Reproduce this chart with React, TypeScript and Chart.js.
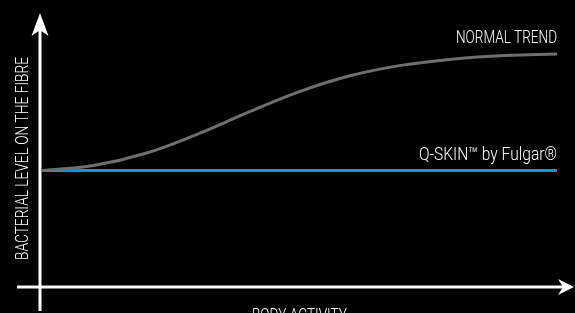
import React, { useEffect, useRef } from "react";
import { Chart, registerables } from "chart.js";

Chart.register(...registerables);

const trendX = [0, 10, 20, 30, 40, 50, 60, 70, 80, 90, 100];
const trendY = [43.6, 45.5, 50.0, 57.1, 65.4, 73.2, 79.2, 83.1, 85.4, 86.7, 87.3];
const qskinX = [0, 100];
const qskinY = [43.6, 43.6];
const trendLabel = "NORMAL TREND";
const qskinLabel = "Q-SKIN™ by Fulgar®";
const yTitle = "BACTERIAL LEVEL ON THE FIBRE";
const xTitle = "BODY ACTIVITY";

const FONT = 'Roboto, "DejaVu Sans Condensed", sans-serif';

function fitText(ctx: CanvasRenderingContext2D, text: string, width: number) {
  const w = ctx.measureText(text).width;
  ctx.scale(width / w, 1);
}

const decorPlugin = {
  id: "decor",
  beforeDatasetsDraw(chart: any) {
    const ctx: CanvasRenderingContext2D = chart.ctx;
    const area = chart.chartArea;
    const ax = area.left - 2;
    const ay = area.bottom;
    ctx.save();
    ctx.strokeStyle = "#ffffff";
    ctx.fillStyle = "#ffffff";
    ctx.lineWidth = 3;
    ctx.beginPath();
    ctx.moveTo(ax, 20);
    ctx.lineTo(ax, 311);
    ctx.stroke();
    ctx.beginPath();
    ctx.moveTo(17, ay);
    ctx.lineTo(568, ay);
    ctx.stroke();
    ctx.beginPath();
    ctx.moveTo(ax, 13);
    ctx.lineTo(ax + 8.5, 36);
    ctx.lineTo(ax, 30);
    ctx.lineTo(ax - 8.5, 36);
    ctx.closePath();
    ctx.fill();
    ctx.beginPath();
    ctx.moveTo(574, ay);
    ctx.lineTo(558, ay - 8);
    ctx.lineTo(563, ay);
    ctx.lineTo(558, ay + 8);
    ctx.closePath();
    ctx.fill();
    ctx.restore();
  },
  afterDraw(chart: any) {
    const ctx: CanvasRenderingContext2D = chart.ctx;
    const xs = chart.scales.x;
    const ys = chart.scales.y;
    const right = xs.getPixelForValue(100);
    ctx.save();
    ctx.fillStyle = "#ffffff";
    ctx.font = `300 18px ${FONT}`;
    ctx.textBaseline = "alphabetic";
    ctx.textAlign = "left";

    ctx.save();
    ctx.translate(456, ys.getPixelForValue(trendY[trendY.length - 1]) - 11);
    fitText(ctx, trendLabel, right - 456);
    ctx.fillText(trendLabel, 0, 0);
    ctx.restore();

    ctx.save();
    ctx.translate(419, ys.getPixelForValue(qskinY[qskinY.length - 1]) - 10.5);
    fitText(ctx, qskinLabel, right - 419);
    ctx.fillText(qskinLabel, 0, 0);
    ctx.restore();

    ctx.save();
    ctx.translate(252, 321);
    fitText(ctx, xTitle, 95);
    ctx.fillText(xTitle, 0, 0);
    ctx.restore();

    ctx.save();
    ctx.translate(28, 260);
    ctx.rotate(-Math.PI / 2);
    ctx.font = `300 19px ${FONT}`;
    fitText(ctx, yTitle, 203);
    ctx.fillText(yTitle, 0, 0);
    ctx.restore();

    ctx.restore();
  },
};

export default function App() {
  const ref = useRef<HTMLCanvasElement | null>(null);
  useEffect(() => {
    document.body.style.margin = "0";
    document.body.style.background = "#000";
    const canvas = ref.current!;
    const chart = new Chart(canvas, {
      type: "line",
      data: {
        datasets: [
          {
            label: trendLabel,
            data: trendX.map((x, i) => ({ x, y: trendY[i] })),
            borderColor: "#6e6e6e",
            borderWidth: 3,
            pointRadius: 0,
            tension: 0.4,
            fill: false,
          },
          {
            label: qskinLabel,
            data: qskinX.map((x, i) => ({ x, y: qskinY[i] })),
            borderColor: "#0a96dc",
            borderWidth: 3,
            pointRadius: 0,
            fill: false,
          },
        ],
      },
      options: {
        animation: false,
        responsive: false,
        devicePixelRatio: 1,
        layout: { padding: { left: 42, right: 18, top: 20, bottom: 26 } },
        plugins: { legend: { display: false }, tooltip: { enabled: false } },
        scales: {
          x: { type: "linear", min: 0, max: 100, display: false },
          y: { type: "linear", min: 0, max: 100, display: false },
        },
      },
      plugins: [decorPlugin],
    } as any);
    return () => chart.destroy();
  }, []);
  return (
    <div style={{ position: "fixed", left: 0, top: 0, width: 575, height: 313, background: "#000" }}>
      <canvas ref={ref} width={575} height={313} style={{ display: "block" }} />
    </div>
  );
}
